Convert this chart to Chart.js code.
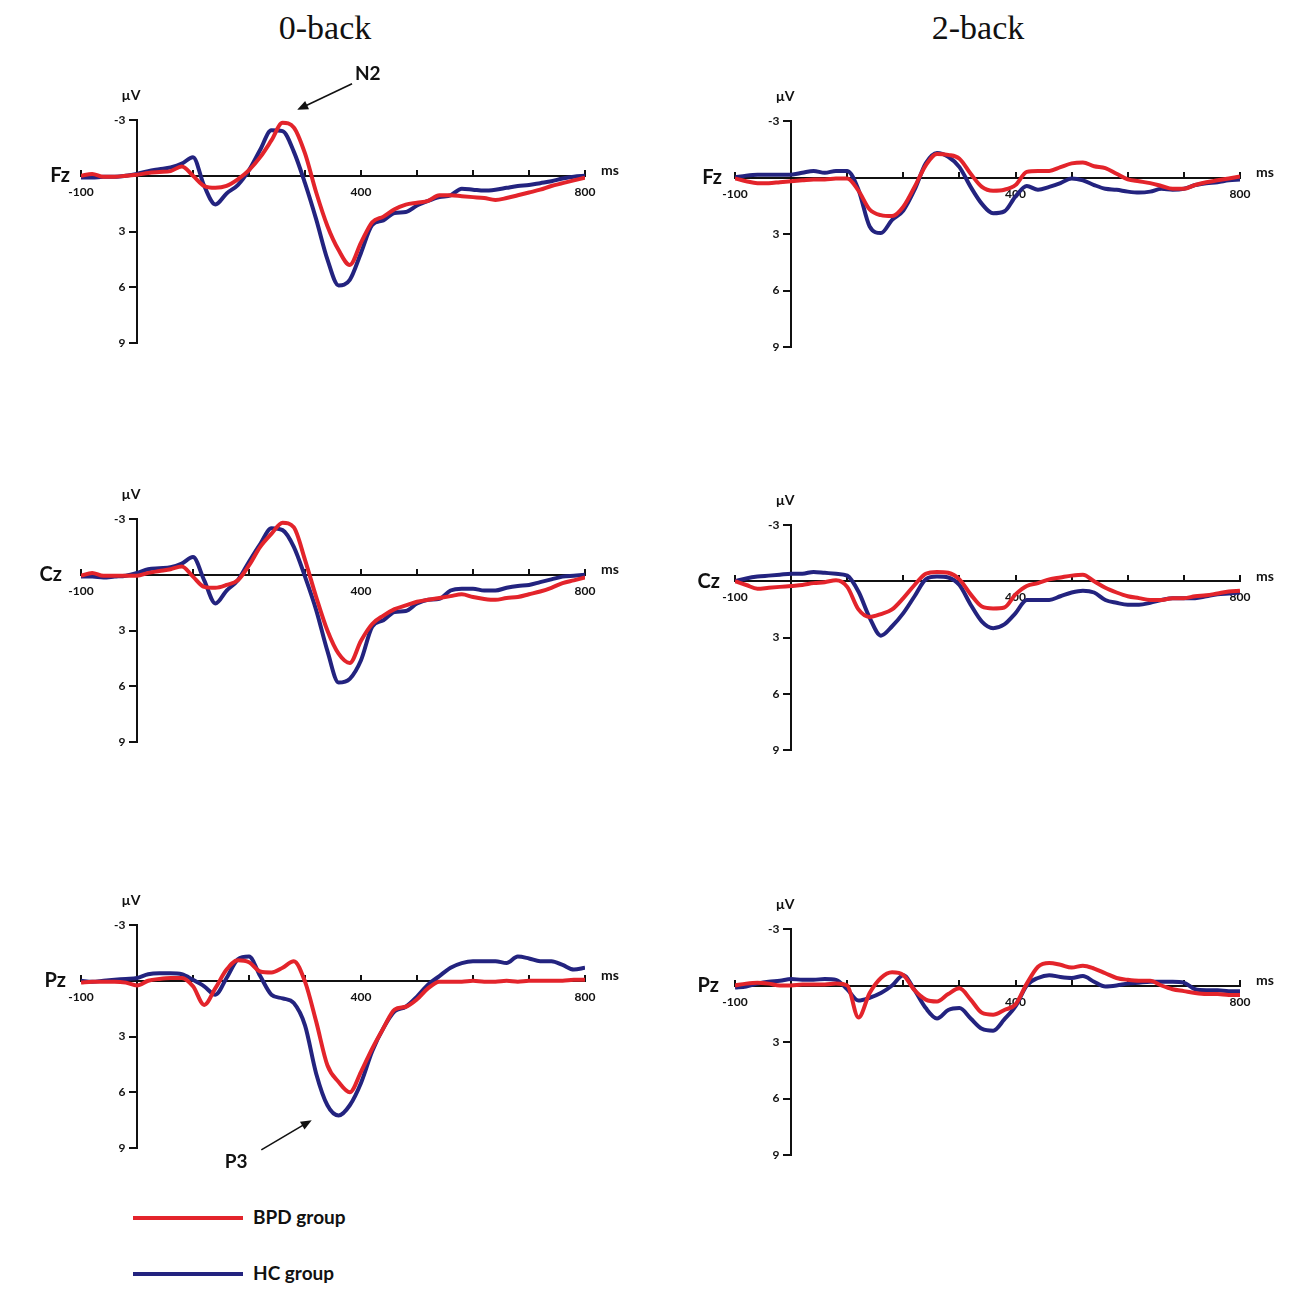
<!DOCTYPE html>
<html>
<head>
<meta charset="utf-8">
<script src="https://cdn.jsdelivr.net/npm/chart.js@4.4.1/dist/chart.umd.min.js"></script>
<style>
  body { margin: 0; background: #fff; }
  #page { position: relative; width: 1300px; height: 1300px; background: #fff; overflow: hidden; }
  #page canvas { position: absolute; }
  .head { position: absolute; top: 9px; font-family: 'Liberation Serif', 'Times New Roman', serif; font-size: 34px; color: #111; transform: translateX(-50%); white-space: nowrap; }
  .key-line { position: absolute; left: 133px; width: 110px; height: 4px; }
  .key-text { position: absolute; left: 253px; font-family: Lato, 'Open Sans', sans-serif; font-weight: bold; font-size: 19px; color: #111; line-height: 24px; }
</style>
</head>
<body>
<div id="page">
  <div class="head" style="left:325px">0-back</div>
  <div class="head" style="left:978px">2-back</div>
  <div class="key-line" style="top:1216px; background:#e3242b"></div>
  <div class="key-text" style="top:1205px">BPD group</div>
  <div class="key-line" style="top:1272px; background:#23237f"></div>
  <div class="key-text" style="top:1261px">HC group</div>
</div>
<script>
/* ── ERP waveforms, µV every 20 ms ── */

const times = [-100, -80, -60, -40, -20, 0, 20, 40, 60, 80, 100, 120, 140, 160, 180, 200, 220, 240, 260, 280,
               300, 320, 340, 360, 380, 400, 420, 440, 460, 480, 500, 520, 540, 560, 580, 600, 620, 640, 660, 680,
               700, 720, 740, 760, 780, 800];

// 0-back
const fz0Bpd = [0.0, -0.1, 0.05, 0.05, 0.0, -0.05, -0.15, -0.2, -0.25, -0.5, 0.0, 0.55, 0.65, 0.55, 0.2, -0.3, -1.0, -1.9, -2.85, -2.6,
                -1.2, 0.9, 2.7, 4.0, 4.8, 3.6, 2.5, 2.2, 1.8, 1.55, 1.45, 1.35, 1.05, 1.05, 1.1, 1.15, 1.2, 1.3, 1.2, 1.05,
                0.9, 0.75, 0.55, 0.4, 0.25, 0.1];
const fz0Hc  = [0.1, 0.1, 0.05, 0.05, 0.0, -0.1, -0.25, -0.35, -0.45, -0.65, -1.0, 0.55, 1.55, 0.95, 0.5, -0.3, -1.4, -2.45, -2.4, -1.3,
                0.4, 2.35, 4.5, 5.9, 5.6, 4.15, 2.65, 2.4, 2.0, 1.95, 1.6, 1.35, 1.15, 1.05, 0.7, 0.75, 0.8, 0.75, 0.65, 0.55,
                0.5, 0.4, 0.3, 0.15, 0.05, 0.0];
const cz0Bpd = [0.05, -0.1, 0.05, 0.05, 0.05, 0.05, -0.1, -0.2, -0.3, -0.45, 0.1, 0.65, 0.7, 0.55, 0.3, -0.5, -1.5, -2.2, -2.8, -2.55,
                -0.8, 1.2, 3.0, 4.25, 4.75, 3.55, 2.65, 2.2, 1.85, 1.65, 1.45, 1.35, 1.25, 1.15, 1.05, 1.2, 1.3, 1.35, 1.25, 1.2,
                1.05, 0.9, 0.7, 0.45, 0.3, 0.15];
const cz0Hc  = [0.1, 0.1, 0.15, 0.1, 0.05, -0.1, -0.3, -0.35, -0.4, -0.6, -0.95, 0.3, 1.55, 0.85, 0.3, -0.7, -1.65, -2.5, -2.4, -1.5,
                0.1, 1.9, 4.1, 5.8, 5.6, 4.6, 2.8, 2.45, 2.0, 1.95, 1.55, 1.35, 1.3, 0.85, 0.75, 0.75, 0.85, 0.85, 0.7, 0.6,
                0.55, 0.4, 0.25, 0.1, 0.05, 0.0];
const pz0Bpd = [0.1, 0.05, 0.05, 0.05, 0.1, 0.25, 0.0, -0.1, -0.15, -0.15, 0.3, 1.3, 0.4, -0.6, -1.1, -1.0, -0.5, -0.45, -0.7, -1.05,
                0.05, 2.2, 4.55, 5.45, 6.0, 4.9, 3.65, 2.55, 1.55, 1.4, 1.0, 0.4, 0.05, 0.05, 0.05, 0.0, 0.05, 0.05, 0.0, 0.05,
                0.0, 0.0, 0.0, 0.0, -0.05, -0.05];
const pz0Hc  = [0.0, 0.05, 0.0, -0.05, -0.1, -0.15, -0.35, -0.4, -0.4, -0.35, -0.05, 0.3, 0.75, -0.15, -1.15, -1.3, -0.25, 0.75, 0.95, 1.2,
                2.4, 5.0, 6.7, 7.25, 6.7, 5.5, 3.8, 2.55, 1.65, 1.4, 0.85, 0.2, -0.25, -0.7, -0.95, -1.05, -1.05, -1.05, -0.95, -1.3,
                -1.2, -1.05, -1.05, -0.85, -0.6, -0.7];

// 2-back
const fz2Bpd = [0.05, 0.2, 0.3, 0.3, 0.25, 0.2, 0.15, 0.1, 0.1, 0.05, 0.05, 0.7, 1.7, 2.0, 2.05, 1.55, 0.5, -0.65, -1.25, -1.2,
                -1.0, -0.2, 0.5, 0.7, 0.65, 0.4, -0.3, -0.35, -0.35, -0.55, -0.75, -0.8, -0.6, -0.5, -0.2, 0.1, 0.2, 0.3, 0.45, 0.6,
                0.6, 0.4, 0.25, 0.15, 0.05, -0.05];
const fz2Hc  = [0.0, -0.1, -0.15, -0.15, -0.15, -0.15, -0.25, -0.35, -0.25, -0.35, -0.35, 0.65, 2.6, 2.95, 2.25, 1.75, 0.65, -0.75, -1.3, -1.1,
                -0.55, 0.5, 1.4, 1.9, 1.8, 1.0, 0.45, 0.65, 0.5, 0.3, 0.05, 0.15, 0.4, 0.6, 0.65, 0.75, 0.8, 0.75, 0.6, 0.65,
                0.6, 0.4, 0.3, 0.25, 0.15, 0.1];
const cz2Bpd = [0.0, 0.2, 0.4, 0.35, 0.3, 0.25, 0.2, 0.1, 0.05, -0.05, 0.3, 1.5, 1.9, 1.75, 1.5, 0.9, 0.2, -0.4, -0.5, -0.45,
                -0.1, 0.7, 1.35, 1.45, 1.4, 0.7, 0.25, 0.1, -0.1, -0.2, -0.3, -0.35, 0.0, 0.35, 0.6, 0.8, 0.9, 1.0, 1.0, 0.9,
                0.9, 0.8, 0.75, 0.65, 0.55, 0.5];
const cz2Hc  = [0.0, -0.15, -0.25, -0.3, -0.35, -0.4, -0.4, -0.5, -0.45, -0.4, -0.3, 0.55, 1.95, 2.9, 2.4, 1.7, 0.8, -0.1, -0.25, -0.2,
                0.2, 1.25, 2.15, 2.5, 2.3, 1.7, 1.0, 1.0, 1.0, 0.8, 0.6, 0.5, 0.6, 1.0, 1.15, 1.25, 1.25, 1.15, 1.0, 0.9,
                0.9, 0.9, 0.8, 0.7, 0.65, 0.6];
const pz2Bpd = [0.0, -0.1, -0.15, -0.1, 0.0, 0.0, -0.05, -0.05, -0.05, -0.1, 0.0, 1.7, 0.4, -0.4, -0.7, -0.55, 0.25, 0.75, 0.85, 0.45,
                0.15, 0.75, 1.45, 1.55, 1.3, 1.0, -0.1, -1.0, -1.2, -1.1, -0.95, -1.05, -0.9, -0.65, -0.4, -0.3, -0.25, -0.25, 0.0, 0.2,
                0.3, 0.4, 0.45, 0.45, 0.5, 0.5];
const pz2Hc  = [0.1, 0.05, -0.1, -0.2, -0.25, -0.35, -0.3, -0.3, -0.35, -0.3, 0.2, 0.8, 0.65, 0.4, 0.0, -0.55, 0.25, 1.2, 1.75, 1.3,
                1.2, 1.75, 2.3, 2.4, 1.8, 1.1, 0.0, -0.4, -0.55, -0.45, -0.4, -0.5, -0.2, 0.05, 0.0, -0.1, -0.15, -0.2, -0.2, -0.2,
                -0.15, 0.2, 0.25, 0.25, 0.3, 0.3];

const xTickLabels = [-100, 400, 800];
const yTickLabels = [-3, 3, 6, 9];
const groups = ['BPD group', 'HC group'];

const RED  = '#e3242b';
const BLUE = '#23237f';

/* ── panel geometry (page pixels of x=-100 / x=800, y=-3 / y=9) ── */
const panels = [
    { name: 'Fz', bpd: fz0Bpd, hc: fz0Hc, left: 0,   x0: 81,  x1: 585,  y0: 120, y1: 343,  gap: 11,
      note: { text: 'N2', tip: [286, -3.55], tail: [384, -4.95], at: [412, -5.5] } },
    { name: 'Cz', bpd: cz0Bpd, hc: cz0Hc, left: 0,   x0: 81,  x1: 585,  y0: 519, y1: 742,  gap: 19 },
    { name: 'Pz', bpd: pz0Bpd, hc: pz0Hc, left: 0,   x0: 81,  x1: 585,  y0: 925, y1: 1148, gap: 15,
      note: { text: 'P3', tip: [312, 7.5], tail: [222, 9.1], at: [177, 9.75] } },
    { name: 'Fz', bpd: fz2Bpd, hc: fz2Hc, left: 650, x0: 735, x1: 1240, y0: 121, y1: 347,  gap: 13 },
    { name: 'Cz', bpd: cz2Bpd, hc: cz2Hc, left: 650, x0: 735, x1: 1240, y0: 525, y1: 750,  gap: 15 },
    { name: 'Pz', bpd: pz2Bpd, hc: pz2Hc, left: 650, x0: 735, x1: 1240, y0: 929, y1: 1155, gap: 16 },
];

const CANVAS_W = 650, CANVAS_H = 330, PAD_TOP = 60;
const FONT = "Lato, 'Open Sans', sans-serif";

const panelText = {
    id: 'panelText',
    afterDraw(chart, args, opts) {
        const { ctx } = chart;
        const xs = chart.scales.x, ys = chart.scales.y;
        const zeroY = ys.getPixelForValue(0);
        const axisX = xs.getPixelForValue(0);
        ctx.save();
        ctx.fillStyle = '#111';
        ctx.textBaseline = 'middle';

        ctx.font = `bold 20px ${FONT}`;
        ctx.textAlign = 'right';
        ctx.fillText(opts.name, xs.left - opts.gap, zeroY);

        ctx.font = `bold 14px ${FONT}`;
        ctx.textAlign = 'center';
        ctx.fillText('µV', axisX - 6, ys.top - 25);
        ctx.textAlign = 'left';
        ctx.fillText('ms', xs.right + 16, zeroY - 5);

        const n = opts.note;
        if (n) {
            const px = p => [xs.getPixelForValue(p[0]), ys.getPixelForValue(p[1])];
            const [tx, ty] = px(n.tip), [sx, sy] = px(n.tail), [lx, ly] = px(n.at);
            const ang = Math.atan2(ty - sy, tx - sx);
            ctx.strokeStyle = '#111';
            ctx.lineWidth = 1.6;
            ctx.beginPath();
            ctx.moveTo(sx, sy);
            ctx.lineTo(tx - 6 * Math.cos(ang), ty - 6 * Math.sin(ang));
            ctx.stroke();
            ctx.beginPath();
            ctx.moveTo(tx, ty);
            ctx.lineTo(tx - 11 * Math.cos(ang) + 4.5 * Math.sin(ang), ty - 11 * Math.sin(ang) - 4.5 * Math.cos(ang));
            ctx.lineTo(tx - 11 * Math.cos(ang) - 4.5 * Math.sin(ang), ty - 11 * Math.sin(ang) + 4.5 * Math.cos(ang));
            ctx.closePath();
            ctx.fill();
            ctx.font = `bold 19px ${FONT}`;
            ctx.textAlign = 'center';
            ctx.fillText(n.text, lx, ly);
        }
        ctx.restore();
    },
};

const page = document.getElementById('page');

panels.forEach(p => {
    const canvas = document.createElement('canvas');
    canvas.width = CANVAS_W;
    canvas.height = CANVAS_H;
    canvas.style.left = p.left + 'px';
    canvas.style.top = (p.y0 - PAD_TOP) + 'px';
    canvas.style.width = CANVAS_W + 'px';
    canvas.style.height = CANVAS_H + 'px';
    page.appendChild(canvas);

    const tickFont = { family: FONT, size: 12, weight: 'bold' };

    new Chart(canvas.getContext('2d'), {
        type: 'line',
        data: {
            labels: times,
            datasets: [
                { label: groups[0], data: p.bpd, borderColor: RED,  borderWidth: 4 },
                { label: groups[1], data: p.hc,  borderColor: BLUE, borderWidth: 4 },
            ],
        },
        options: {
            responsive: false,
            animation: false,
            devicePixelRatio: 1,
            layout: {
                padding: {
                    left:   p.x0 - p.left,
                    right:  p.left + CANVAS_W - p.x1,
                    top:    PAD_TOP,
                    bottom: CANVAS_H - PAD_TOP - (p.y1 - p.y0),
                },
            },
            elements: {
                point: { radius: 0 },
                line:  { cubicInterpolationMode: 'monotone', fill: false },
            },
            scales: {
                x: {
                    type: 'linear',
                    position: { y: 0 },
                    min: -100, max: 800,
                    border: { display: true, color: '#111', width: 2 },
                    grid:   { drawOnChartArea: false, drawTicks: true, tickLength: -7, color: '#111', lineWidth: 2 },
                    ticks: {
                        stepSize: 100, autoSkip: false, maxRotation: 0, padding: 16,
                        color: '#111', font: tickFont,
                        callback: v => xTickLabels.includes(v) ? String(v) : '',
                    },
                },
                y: {
                    type: 'linear',
                    position: { x: 0 },
                    reverse: true,
                    min: -3, max: 9,
                    border: { display: true, color: '#111', width: 2 },
                    grid:   { drawOnChartArea: false, drawTicks: true, tickLength: 7, color: '#111', lineWidth: 2 },
                    ticks: {
                        stepSize: 3, autoSkip: false, color: '#111', font: tickFont,
                        callback: v => yTickLabels.includes(v) ? v + '    ' : '',
                    },
                },
            },
            plugins: {
                legend:  { display: false },
                tooltip: { enabled: false },
                panelText: { name: p.name, gap: p.gap, note: p.note },
            },
        },
        plugins: [panelText],
    });
});
</script>
</body>
</html>
